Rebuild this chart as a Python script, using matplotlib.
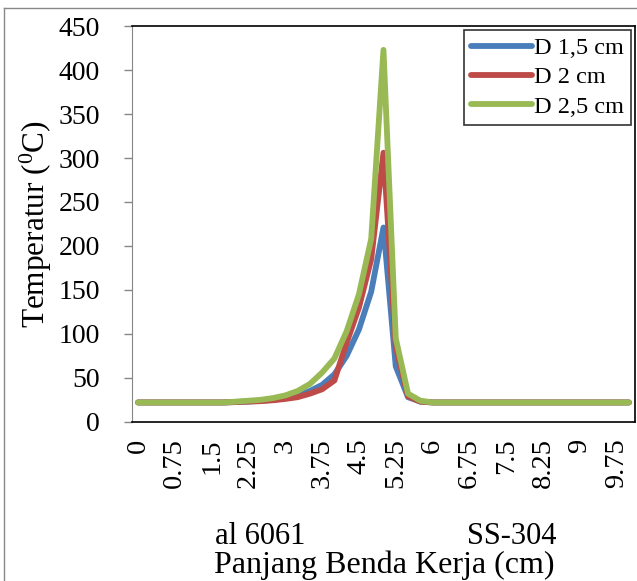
import numpy as np
import matplotlib
matplotlib.use("Agg")
import matplotlib.pyplot as plt
from matplotlib.lines import Line2D

plt.rcParams['font.family'] = ['Liberation Serif', 'DejaVu Serif']
plt.rcParams['mathtext.fontset'] = 'custom'
plt.rcParams['mathtext.rm'] = 'Liberation Serif'

# positions along the workpiece, every 0.25 cm
posisi = np.arange(0, 10.01, 0.25)

# temperatures (degC), 41 points each
d15 = [22, 22, 22, 22, 22, 22, 22, 22, 22.5, 23, 24, 25, 27, 30, 35, 42, 54, 75, 105, 148, 221,
       63, 28, 23, 22, 22, 22, 22, 22, 22, 22, 22, 22, 22, 22, 22, 22, 22, 22, 22, 22]
d20 = [22, 22, 22, 22, 22, 22, 22, 22, 22.5, 23, 23.5, 24.5, 26, 28, 32, 37, 47, 90, 130, 185, 306,
       85, 29, 23, 22, 22, 22, 22, 22, 22, 22, 22, 22, 22, 22, 22, 22, 22, 22, 22, 22]
d25 = [22, 22, 22, 22, 22, 22, 22, 22, 23, 24, 25, 27, 30, 35, 43, 56, 72, 103, 145, 208, 423,
       95, 32, 24, 22, 22, 22, 22, 22, 22, 22, 22, 22, 22, 22, 22, 22, 22, 22, 22, 22]

tick_pos = np.arange(0, 10, 0.75)
tick_lbl = ["0", "0.75", "1.5", "2.25", "3", "3.75", "4.5", "5.25", "6",
            "6.75", "7.5", "8.25", "9", "9.75"]

fig = plt.figure(figsize=(6.37, 5.81), dpi=100)
ax = fig.add_axes([0.207, 0.274, 0.790, 0.681])

ax.plot(posisi, d15, color="#4A7EBB", lw=4.2, solid_capstyle="round", label="D 1,5 cm")
ax.plot(posisi, d20, color="#BE4B48", lw=4.2, solid_capstyle="round", label="D 2 cm")
ax.plot(posisi, d25, color="#98B954", lw=4.2, solid_capstyle="round", label="D 2,5 cm")

ax.set_xlim(-0.125, 10.125)
ax.set_ylim(0, 450)
ax.set_yticks(np.arange(0, 451, 50))
ax.set_xticks(tick_pos)
ax.set_xticklabels(tick_lbl, rotation=90, fontsize=20.5)
ax.tick_params(axis="x", length=0, pad=12)
ax.tick_params(axis="y", labelsize=20, length=6, width=1, color="#868686", pad=17)

ax.spines["left"].set_color("#868686")
for s in ["top", "right", "bottom"]:
    ax.spines[s].set_color("black")
    ax.spines[s].set_linewidth(1.2)

ax.set_ylabel(r"Temperatur ($\mathregular{^0}$C)", fontsize=22.5)
ax.yaxis.set_label_coords(-0.155, 0.5)

fig.text(260 / 637, 1 - 537 / 581, "al 6061", fontsize=22, ha="center", va="center")
fig.text(512 / 637, 1 - 537 / 581, "SS-304", fontsize=22, ha="center", va="center")
fig.text(384 / 637, 1 - 565 / 581, "Panjang Benda Kerja (cm)", fontsize=23, ha="center", va="center")

leg = ax.legend(loc="upper right", fontsize=17.5, frameon=True, fancybox=False,
                handlelength=2.5, handletextpad=0.1, borderpad=0.3,
                labelspacing=0.3, borderaxespad=0.15)
leg.get_frame().set_edgecolor("black")
leg.get_frame().set_linewidth(1.2)

# outer chart frame (left and top edges visible)
fig.add_artist(Line2D([4 / 637, 4 / 637], [0, 1 - 8 / 581], transform=fig.transFigure,
                      color="#888888", lw=1))
fig.add_artist(Line2D([4 / 637, 1], [1 - 8 / 581, 1 - 8 / 581], transform=fig.transFigure,
                      color="#888888", lw=1))

fig.savefig("out.png", dpi=100)
